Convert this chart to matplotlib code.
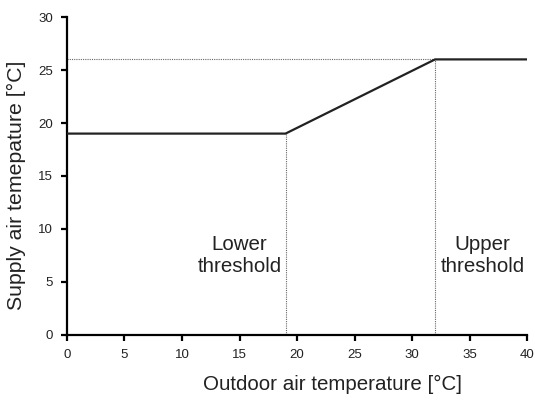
import matplotlib
matplotlib.use("Agg")
import matplotlib.pyplot as plt

plt.rcParams['font.family'] = ['Liberation Sans', 'DejaVu Sans']

outdoor = [0, 19, 32, 40]
supply = [19, 19, 26, 26]
lower_thr = 19
upper_thr = 32
upper_supply = 26
xticks = list(range(0, 41, 5))
yticks = list(range(0, 31, 5))

fig = plt.figure(figsize=(5.35, 4.01), dpi=100)
ax = fig.add_axes([0.1252, 0.1646, 0.86, 0.793])

ax.plot(outdoor, supply, color='#222222', lw=1.6, solid_capstyle='butt', zorder=3)
ax.plot([lower_thr, lower_thr], [0, supply[1]], color='#666666', lw=0.8, ls=(0, (1, 1)))
ax.plot([upper_thr, upper_thr], [0, upper_supply], color='#666666', lw=0.8, ls=(0, (1, 1)))
ax.plot([0, upper_thr], [upper_supply, upper_supply], color='#666666', lw=0.8, ls=(0, (1, 1)))

ax.text(15.0, 7.5, 'Lower\nthreshold', ha='center', va='center', fontsize=14.8, linespacing=1.2, color='#222222')
ax.text(36.15, 7.5, 'Upper\nthreshold', ha='center', va='center', fontsize=14.8, linespacing=1.2, color='#222222')

ax.set_xlim(0, 40)
ax.set_ylim(0, 30)
ax.set_xticks(xticks)
ax.set_yticks(yticks)
for s in ['top', 'right']:
    ax.spines[s].set_visible(False)
for s in ['left', 'bottom']:
    ax.spines[s].set_linewidth(1.6)
ax.tick_params(direction='out', length=4, width=1.6, labelsize=9.5, pad=6, labelcolor='#222222')
ax.set_xlabel('Outdoor air temperature [°C]', fontsize=14.8, labelpad=14, color='#222222')
ax.set_ylabel('Supply air temepature [°C]', fontsize=15.3, labelpad=9, color='#222222')
ax.xaxis.set_label_coords(0.577, -0.125)
ax.yaxis.label.set_y(0.47)

fig.savefig('out.png', dpi=100)
